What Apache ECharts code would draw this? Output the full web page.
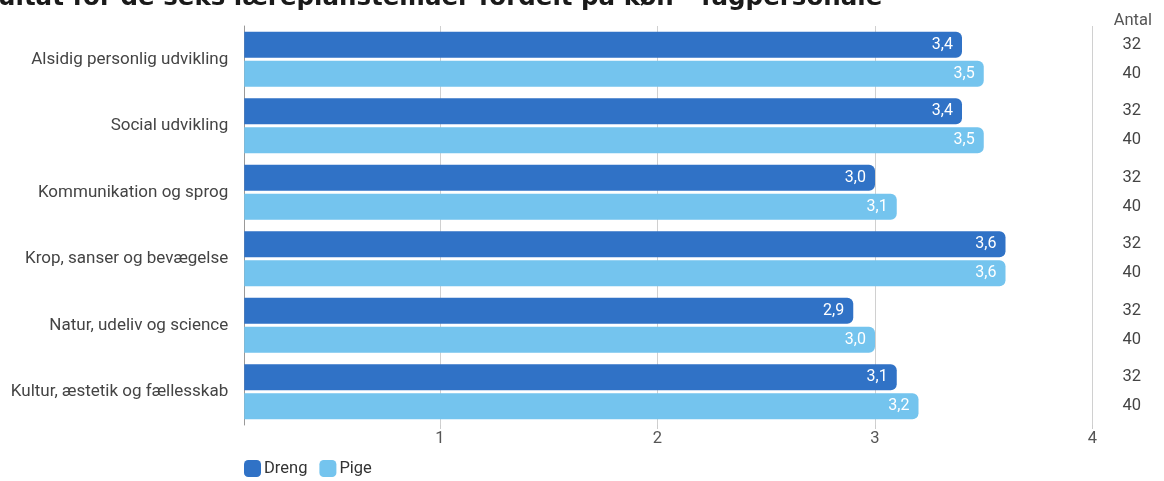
<!DOCTYPE html>
<html><head><meta charset="utf-8">
<script src="https://cdn.jsdelivr.net/npm/echarts@6/dist/echarts.min.js"></script>
<style>html,body{margin:0;padding:0;background:#fff}#c{width:1164px;height:481px}</style>
</head><body><div id="c"></div>
<script>
const titleText = 'Resultat for de seks læreplanstemaer fordelt på køn - fagpersonale';
const categories = ['Alsidig personlig udvikling','Social udvikling','Kommunikation og sprog','Krop, sanser og bevægelse','Natur, udeliv og science','Kultur, æstetik og fællesskab'];
const seriesNames = ['Dreng','Pige'];
const drengValues = [3.4,3.4,3.0,3.6,2.9,3.1];
const pigeValues = [3.5,3.5,3.1,3.6,3.0,3.2];
const antalDreng = [32,32,32,32,32,32];
const antalPige = [40,40,40,40,40,40];
const xTicks = [1,2,3,4];
const antalHeader = 'Antal';

const chart = echarts.init(document.getElementById('c'));
const fmt = p => String(p.value.toFixed(1)).replace('.', ',');
const barLabel = {show:true, position:'insideRight', distance:9, color:'#fff', fontSize:16, fontFamily:'Roboto', formatter:fmt};
chart.setOption({
  animation:false,
  textStyle:{fontFamily:'Roboto'},
  color:['#3072c6','#74c4ee'],
  graphic:[
    {type:'text', left:-52, top:-14, style:{text:titleText, font:'bold 24.5px "DejaVu Sans"', fill:'#1a1a1a'}},
    {type:'text', right: 12, top:12, style:{text:antalHeader, font:'16.5px Roboto', fill:'#555'}}
  ],
  legend:{left:239, top:455, itemWidth:17, itemHeight:17, itemGap:12, icon:'roundRect',
    textStyle:{fontSize:16.5, color:'#333', fontFamily:'Roboto', padding:[0,0,0,-2]}, data:seriesNames},
  grid:{left:244.25, right:71.5, top:26, bottom:56, containLabel:false},
  xAxis:{type:'value', min:0.1, max:4,
    axisLine:{show:false},
    axisTick:{show:true, customValues:xTicks, length:4, lineStyle:{color:'#ccc'}},
    axisLabel:{customValues:xTicks, fontSize:16.5, color:'#555', margin:5, fontFamily:'Roboto'},
    splitLine:{show:true, lineStyle:{color:'#d0d0d0', width:1}}
  },
  yAxis:[
    {type:'category', data:categories, inverse:true,
      axisLine:{show:true, lineStyle:{color:'#999'}}, axisTick:{show:false},
      axisLabel:{fontSize:17, color:'#444', margin:16, fontFamily:'Roboto'}},
    {type:'category', data:categories, inverse:true, position:'right',
      axisLine:{show:false}, axisTick:{show:false},
      axisLabel:{margin:30, align:'left', fontFamily:'Roboto',
        formatter:(v, i) => '{n|' + antalDreng[i] + '}\n{n|' + antalPige[i] + '}',
        rich:{n:{fontSize:16.5, color:'#444', lineHeight:29, fontFamily:'Roboto'}}}}
  ],
  series:[
    {name:seriesNames[0], type:'bar', data:drengValues, barWidth:26, barGap:'11.5%', barCategoryGap:'17%',
      itemStyle:{borderRadius:[0,6,6,0]}, label:barLabel},
    {name:seriesNames[1], type:'bar', data:pigeValues, barWidth:26,
      itemStyle:{borderRadius:[0,6,6,0]}, label:barLabel}
  ]
});
</script></body></html>
